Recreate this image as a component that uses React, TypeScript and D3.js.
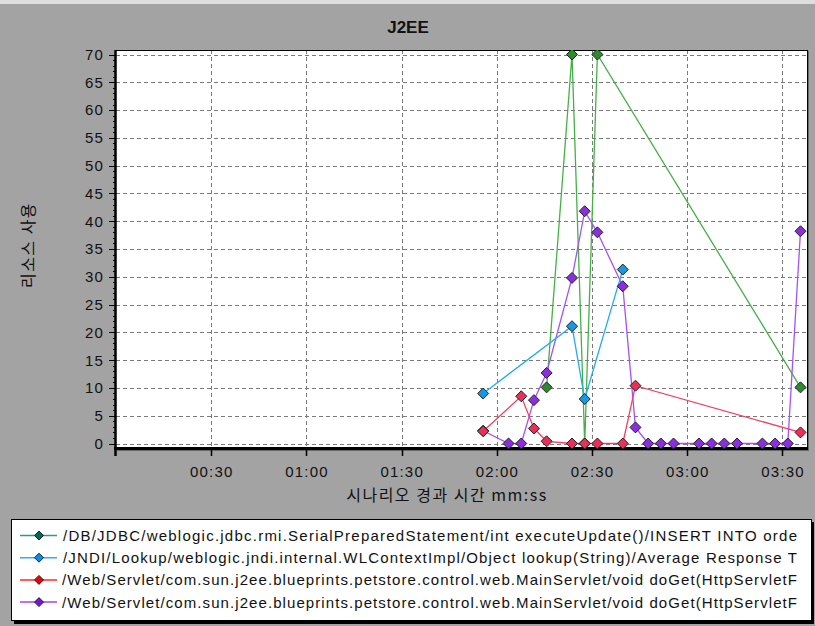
import React from "react";
import * as d3 from "d3";

// ---- data (seconds, resource usage) ----
const dbTimes = [135.7, 143.7, 147.7, 151.7, 215.7];
const dbValues = [10.1, 70, 0, 70, 10.1];

const jndiTimes = [115.7, 143.7, 147.7, 159.7];
const jndiValues = [9.0, 21.1, 8.0, 31.3];

const webATimes = [115.7, 127.7, 131.7, 135.7, 143.7, 147.7, 151.7, 159.7, 163.7, 215.7];
const webAValues = [2.2, 8.5, 2.7, 0.4, 0, 0, 0, 0, 10.4, 2.0];

const webBTimes = [115.7, 123.7, 127.7, 131.7, 135.7, 143.7, 147.7, 151.7, 159.7, 163.7, 167.7, 171.7, 175.7, 183.7, 187.7, 191.7, 195.7, 203.7, 207.7, 211.7, 215.7];
const webBValues = [2.3, 0, 0, 7.8, 12.7, 29.8, 41.8, 38.0, 28.3, 2.9, 0, 0, 0, 0, 0, 0, 0, 0, 0, 0, 38.2];

// legend texts as visible in the (cropped) legend box
const legendLabels = [
  "/DB/JDBC/weblogic.jdbc.rmi.SerialPreparedStatement/int executeUpdate()/INSERT INTO orde",
  "/JNDI/Lookup/weblogic.jndi.internal.WLContextImpl/Object lookup(String)/Average Response T",
  "/Web/Servlet/com.sun.j2ee.blueprints.petstore.control.web.MainServlet/void doGet(HttpServletF",
  "/Web/Servlet/com.sun.j2ee.blueprints.petstore.control.web.MainServlet/void doGet(HttpServletF",
];

const xTickValues = [30, 60, 90, 120, 150, 180, 210];
const yTickValues = [0, 5, 10, 15, 20, 25, 30, 35, 40, 45, 50, 55, 60, 65, 70];
const title = "J2EE";
const xTitle = "시나리오 경과 시간 mm:ss";
const yTitle = "리소스 사용";

// ---- layout ----
const W = 815, H = 626;
const PL = 116, PR = 807, PT = 50, PB = 449;
const x = d3.scaleLinear().domain([0, 30]).range([PL, PL + 95.2]);
const y = d3.scaleLinear().domain([0, 70]).range([443.5, 54.5]);

const FONT = "'Liberation Sans', Arial, sans-serif";
const KFONT = "'Noto Sans CJK KR', 'Liberation Sans', sans-serif";

type Series = { t: number[]; v: number[]; line: string; marker: string; lLine: string; lMarker: string };
const series: Series[] = [
  { t: dbTimes, v: dbValues, line: "#45b045", marker: "#2c8c2c", lLine: "#2a9d8a", lMarker: "#006a5a" },
  { t: jndiTimes, v: jndiValues, line: "#25aaf5", marker: "#1798e6", lLine: "#35aaff", lMarker: "#0090f0" },
  { t: webATimes, v: webAValues, line: "#f2405e", marker: "#ea2f58", lLine: "#ff2a2a", lMarker: "#f00000" },
  { t: webBTimes, v: webBValues, line: "#a552f5", marker: "#8a2ee0", lLine: "#a040ff", lMarker: "#7a10e0" },
];
const drawOrder = [0, 3, 1, 2];
const legendTextX = [63, 63, 62, 62];

const fmt = (s: number) => {
  const m = Math.floor(s / 60);
  const sec = Math.round(s % 60);
  return `${String(m).padStart(2, "0")}:${String(sec).padStart(2, "0")}`;
};

const diamond = (cx: number, cy: number, r: number) =>
  `M${cx},${cy - r}L${cx + r},${cy}L${cx},${cy + r}L${cx - r},${cy}Z`;

export default function App() {
  const lineGen = d3
    .line<[number, number]>()
    .x((d) => x(d[0]))
    .y((d) => y(d[1]));

  const minor = d3.range(0, 71, 1);

  return (
    <svg width={W} height={H} style={{ position: "absolute", left: 0, top: 0, display: "block" }}>
      <rect x={0} y={0} width={W} height={H} fill="#a3a3a3" />
      <rect x={0} y={0} width={W} height={4} fill="#dedede" />
      <text x={408} y={33} textAnchor="middle" fontFamily={FONT} fontWeight="bold" fontSize={17} fill="#111">
        {title}
      </text>

      {/* plot area */}
      <rect x={PL + 1} y={PT + 1} width={PR - PL + 1} height={PB - PT + 1} fill="#6a6a6a" />
      <rect x={PL} y={PT} width={PR - PL} height={PB - PT} fill="#ffffff" />
      <defs>
        <clipPath id="plotclip">
          <rect x={PL} y={PT} width={PR - PL} height={PB - PT} />
        </clipPath>
      </defs>

      {/* grid */}
      {yTickValues.map((v) => (
        <line key={"gy" + v} x1={PL} x2={PR} y1={Math.round(y(v)) + 0.5} y2={Math.round(y(v)) + 0.5}
          stroke="#7a7a7a" strokeDasharray="4,3" strokeWidth={1} />
      ))}
      {xTickValues.map((v) => (
        <line key={"gx" + v} x1={Math.round(x(v)) + 0.5} x2={Math.round(x(v)) + 0.5} y1={PT} y2={PB}
          stroke="#7a7a7a" strokeDasharray="4,3" strokeWidth={1} />
      ))}

      {/* frame */}
      <line x1={PL} x2={PR} y1={PT + 0.5} y2={PT + 0.5} stroke="#000" strokeWidth={1} />
      <line x1={PR + 0.5} x2={PR + 0.5} y1={PT} y2={PB} stroke="#000" strokeWidth={1} />
      <line x1={PL - 0.5} x2={PL - 0.5} y1={PT} y2={PB + 7} stroke="#000" strokeWidth={2.5} />
      <line x1={PL - 2} x2={PR + 1} y1={PB - 0.5} y2={PB - 0.5} stroke="#000" strokeWidth={3} />

      {/* y ticks */}
      {minor.map((v) => (
        <line key={"my" + v} x1={PL - 3} x2={PL} y1={Math.round(y(v)) + 0.5} y2={Math.round(y(v)) + 0.5}
          stroke="#000" strokeWidth={1} />
      ))}
      {yTickValues.map((v) => (
        <g key={"ty" + v}>
          <line x1={PL - 7} x2={PL} y1={Math.round(y(v)) + 0.5} y2={Math.round(y(v)) + 0.5} stroke="#000" strokeWidth={1} />
          <text x={104} y={y(v)} dy="0.36em" textAnchor="end" fontFamily={FONT} fontSize={15} letterSpacing={1.1} fill="#111">
            {v}
          </text>
        </g>
      ))}

      {/* x ticks */}
      {xTickValues.map((v) => (
        <g key={"tx" + v}>
          <line x1={Math.round(x(v)) + 0.5} x2={Math.round(x(v)) + 0.5} y1={PB} y2={PB + 7} stroke="#000" strokeWidth={1.5} />
          <text x={x(v) + 0.6} y={477} textAnchor="middle" fontFamily={FONT} fontSize={15} letterSpacing={1.2} fill="#111">
            {fmt(v)}
          </text>
        </g>
      ))}

      <text x={447} y={501} textAnchor="middle" fontFamily={KFONT} fontSize={16} letterSpacing={1.5} fill="#111">
        {xTitle}
      </text>
      <text transform={`translate(34,245) rotate(-90)`} textAnchor="middle" fontFamily={KFONT} fontSize={16} letterSpacing={1.5} fill="#111">
        {yTitle}
      </text>

      {/* series */}
      <g clipPath="url(#plotclip)">
        {drawOrder.map((i) => {
          const s = series[i];
          const pts: [number, number][] = s.t.map((t, k) => [t, s.v[k]]);
          return (
            <g key={"s" + i}>
              <path d={lineGen(pts) || ""} fill="none" stroke={s.line} strokeWidth={1.3} />
            </g>
          );
        })}
        {drawOrder.map((i) => {
          const s = series[i];
          return (
            <g key={"m" + i}>
              {s.t.map((t, k) => (
                <path key={k} d={diamond(x(t), y(s.v[k]), 5.5)} fill={s.marker} stroke="#222" strokeWidth={1} />
              ))}
            </g>
          );
        })}
      </g>

      {/* legend */}
      <rect x={14} y={522} width={800} height={102} fill="#000" />
      <rect x={11.5} y={519.5} width={800} height={101} fill="#fff" stroke="#000" strokeWidth={1} />
      {series.map((s, i) => {
        const ly = 535.5 + i * 22.2;
        return (
          <g key={"l" + i}>
            <line x1={20} x2={57} y1={ly} y2={ly} stroke={s.lLine} strokeWidth={1.5} />
            <path d={diamond(39, ly, 4.5)} fill={s.lMarker} stroke="#222" strokeWidth={1} />
            <text x={legendTextX[i]} y={ly} dy="0.36em" fontFamily={FONT} fontSize={15}
              textLength={797 - legendTextX[i]} lengthAdjust="spacing" fill="#111">
              {legendLabels[i]}
            </text>
          </g>
        );
      })}
    </svg>
  );
}
